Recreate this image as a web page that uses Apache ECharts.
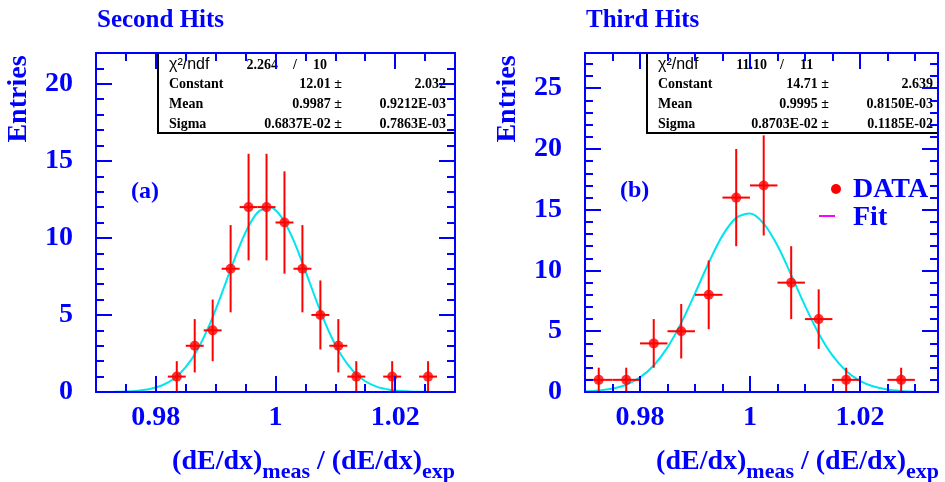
<!DOCTYPE html>
<html><head><meta charset="utf-8">
<script src="https://cdn.jsdelivr.net/npm/echarts@6/dist/echarts.min.js"></script>
<style>html,body{margin:0;padding:0;background:#fff}#c{width:945px;height:482px}</style>
</head><body><div id="c"></div>
<script>
// ---------- data ----------
const xTickLabels = [0.98, 1, 1.02];
const yTickLabelsA = [0, 5, 10, 15, 20];
const yTickLabelsB = [0, 5, 10, 15, 20, 25];

// (a) Second Hits
const dataAX = [0.9835, 0.9865, 0.9895, 0.9925, 0.9955, 0.9985, 1.0015, 1.0045, 1.0075, 1.0105, 1.0135, 1.0195, 1.0255];
const dataAY = [1, 3, 4, 8, 12, 12, 11, 8, 5, 3, 1, 1, 1];
const errAY  = [1, 1.73, 2, 2.83, 3.46, 3.46, 3.32, 2.83, 2.24, 1.73, 1, 1, 1];
const binHalfA = 0.0015;
const fitAX = [0.973, 0.975, 0.977, 0.979, 0.981, 0.983, 0.985, 0.987, 0.989, 0.991, 0.993, 0.995, 0.997, 0.999, 1.001, 1.003, 1.005, 1.007, 1.009, 1.011, 1.013, 1.015, 1.017, 1.019, 1.021, 1.023, 1.025, 1.027];
const fitAY = [0.01, 0.03, 0.08, 0.19, 0.42, 0.86, 1.61, 2.78, 4.39, 6.37, 8.48, 10.37, 11.65, 12.0, 11.35, 9.86, 7.85, 5.75, 3.86, 2.38, 1.35, 0.70, 0.33, 0.15, 0.06, 0.02, 0.01, 0.0];

// (b) Third Hits
const dataBX = [0.9725, 0.9775, 0.9825, 0.9875, 0.9925, 0.9975, 1.0025, 1.0075, 1.0125, 1.0175, 1.0275];
const dataBY = [1, 1, 4, 5, 8, 16, 17, 9, 6, 1, 1];
const errBY  = [1, 1, 2, 2.24, 2.83, 4, 4.12, 3, 2.45, 1, 1];
const binHalfB = 0.0025;
const fitBX = [0.970, 0.9725, 0.975, 0.9775, 0.980, 0.9825, 0.985, 0.9875, 0.990, 0.9925, 0.995, 0.9975, 1.000, 1.0025, 1.005, 1.0075, 1.010, 1.0125, 1.015, 1.0175, 1.020, 1.0225, 1.025, 1.0275, 1.030];
const fitBY = [0.05, 0.12, 0.28, 0.60, 1.20, 2.18, 3.67, 5.69, 8.11, 10.64, 12.87, 14.33, 14.69, 13.86, 12.05, 9.64, 7.11, 4.82, 3.01, 1.73, 0.92, 0.45, 0.20, 0.08, 0.03];

// stats boxes
const statsA = { chi: '2.264', ndf: '10', rows: [['Constant', '12.01', '2.032'], ['Mean', '0.9987', '0.9212E-03'], ['Sigma', '0.6837E-02', '0.7863E-03']] };
const statsB = { chi: '11.10', ndf: '11', rows: [['Constant', '14.71', '2.639'], ['Mean', '0.9995', '0.8150E-03'], ['Sigma', '0.8703E-02', '0.1185E-02']] };

// ---------- style ----------
const BLUE = '#0000ff', RED = '#ff0000', CYAN = '#00e5ee', MAGENTA = '#ff00ff';
const SERIF = '"Liberation Serif","Times New Roman",serif';
const SANS = '"Liberation Sans",Arial,sans-serif';

const grids = [
  { left: 96, top: 53, width: 359, height: 339, xmin: 0.97, xmax: 1.03, ymax: 22, yLabels: yTickLabelsA },
  { left: 585, top: 53, width: 353, height: 339, xmin: 0.97, xmax: 1.0342, ymax: 27.9, yLabels: yTickLabelsB }
];

function range(a, b, step) { const r = []; for (let v = a; v <= b + 1e-9; v += step) r.push(+v.toFixed(4)); return r; }

const xAxis = [], yAxis = [];
grids.forEach((g, gi) => {
  const minorX = range(g.xmin, g.xmax, 0.005);
  const minorY = range(0, Math.floor(g.ymax), 1);
  ['bottom', 'top'].forEach(pos => {
    xAxis.push({ gridIndex: gi, type: 'value', position: pos, min: g.xmin, max: g.xmax, z: 5,
      axisLine: { show: true, onZero: false, lineStyle: { color: BLUE, width: 2 } },
      axisTick: { show: true, inside: true, length: 8, customValues: minorX, lineStyle: { color: BLUE, width: 2 } },
      axisLabel: { show: false }, splitLine: { show: false } });
    xAxis.push({ gridIndex: gi, type: 'value', position: pos, min: g.xmin, max: g.xmax, z: 5,
      axisLine: { show: false, onZero: false },
      axisTick: { show: true, inside: true, length: 16, customValues: xTickLabels, lineStyle: { color: BLUE, width: 2 } },
      axisLabel: { show: pos === 'bottom', customValues: xTickLabels, margin: 12,
        formatter: v => String(+(+v).toFixed(2)), color: BLUE, fontFamily: SERIF, fontWeight: 'bold', fontSize: 28 },
      splitLine: { show: false } });
  });
  ['left', 'right'].forEach(pos => {
    yAxis.push({ gridIndex: gi, type: 'value', position: pos, min: 0, max: g.ymax, z: 5,
      axisLine: { show: true, onZero: false, lineStyle: { color: BLUE, width: 2 } },
      axisTick: { show: true, inside: true, length: 8, customValues: minorY, lineStyle: { color: BLUE, width: 2 } },
      axisLabel: { show: false }, splitLine: { show: false } });
    yAxis.push({ gridIndex: gi, type: 'value', position: pos, min: 0, max: g.ymax, z: 5,
      axisLine: { show: false, onZero: false },
      axisTick: { show: true, inside: true, length: 16, customValues: g.yLabels, lineStyle: { color: BLUE, width: 2 } },
      axisLabel: { show: pos === 'left', customValues: g.yLabels, margin: 23,
        color: BLUE, fontFamily: SERIF, fontWeight: 'bold', fontSize: 28 },
      splitLine: { show: false } });
  });
});

function errRender(halfW) {
  return function (params, api) {
    const x = api.value(0), y = api.value(1), e = api.value(2);
    const pL = api.coord([x - halfW, y]), pR = api.coord([x + halfW, y]);
    const pT = api.coord([x, y + e]), pB = api.coord([x, Math.max(0, y - e)]);
    return { type: 'group', children: [
      { type: 'line', shape: { x1: pL[0], y1: pL[1], x2: pR[0], y2: pR[1] }, style: { stroke: RED, lineWidth: 2 } },
      { type: 'line', shape: { x1: pT[0], y1: pT[1], x2: pB[0], y2: pB[1] }, style: { stroke: RED, lineWidth: 2 } }
    ] };
  };
}

function seriesFor(xi, yi, X, Y, E, half, FX, FY) {
  return [
    { type: 'line', xAxisIndex: xi, yAxisIndex: yi, data: FX.map((x, i) => [x, FY[i]]), smooth: 0.3,
      showSymbol: false, lineStyle: { color: CYAN, width: 2 }, z: 2, silent: true },
    { type: 'custom', xAxisIndex: xi, yAxisIndex: yi, data: X.map((x, i) => [x, Y[i], E[i]]),
      renderItem: errRender(half), z: 3, silent: true },
    { type: 'scatter', xAxisIndex: xi, yAxisIndex: yi, data: X.map((x, i) => [x, Y[i]]),
      symbol: 'circle', symbolSize: 10, itemStyle: { color: RED }, z: 4, silent: true }
  ];
}

function statsBox(left, right, s, cols) {
  const top = 53, bottom = 133;
  const els = [{ type: 'rect', shape: { x: left, y: top, width: right - left, height: bottom - top },
    style: { fill: '#fff', stroke: '#000', lineWidth: 2 }, z: 1 }];
  const tf = (text, x, y, align, extra) => Object.assign({ type: 'text', z: 2, x: x, y: y,
    style: { text: text, align: align, verticalAlign: 'middle', fill: '#000', fontFamily: SERIF, fontWeight: 'bold', fontSize: 14 } }, extra || {});
  els.push({ type: 'text', z: 2, x: left + 11, y: 65, style: { text: 'χ²/ndf', align: 'left', verticalAlign: 'middle', fill: '#000', fontFamily: SANS, fontSize: 16 } });
  els.push(tf(s.chi, cols.chiR, 65, 'right'));
  els.push(tf('/', cols.slash, 65, 'center'));
  els.push(tf(s.ndf, cols.ndfL, 65, 'left'));
  s.rows.forEach((r, i) => {
    const y = 84.5 + i * 20;
    els.push(tf(r[0], left + 11, y, 'left'));
    els.push(tf(r[1] + ' ±', cols.valR, y, 'right'));
    els.push(tf(r[2], cols.errR, y, 'right'));
  });
  return els;
}

const graphics = [];
// titles
graphics.push({ type: 'text', x: 97, y: 21, style: { text: 'Second Hits', fill: BLUE, fontFamily: SERIF, fontWeight: 'bold', fontSize: 25, verticalAlign: 'middle' } });
graphics.push({ type: 'text', x: 586, y: 21, style: { text: 'Third Hits', fill: BLUE, fontFamily: SERIF, fontWeight: 'bold', fontSize: 25, verticalAlign: 'middle' } });
// Entries
[19, 507.5].forEach(cx => graphics.push({ type: 'text', x: cx, y: 99, rotation: Math.PI / 2,
  style: { text: 'Entries', fill: BLUE, fontFamily: SERIF, fontWeight: 'bold', fontSize: 28, align: 'center', verticalAlign: 'middle' } }));
// x titles
[455, 939].forEach(rx => graphics.push({ type: 'text', x: rx, y: 455,
  style: { text: '{m|(dE/dx)}{s|meas}{m| / (dE/dx)}{s|exp}', align: 'right', verticalAlign: 'top',
    rich: {
      m: { fontSize: 28, fontWeight: 'bold', fontFamily: SERIF, fill: BLUE, lineHeight: 28, verticalAlign: 'bottom', padding: [0, 0, 7, 0] },
      s: { fontSize: 22, fontWeight: 'bold', fontFamily: SERIF, fill: BLUE, lineHeight: 22, verticalAlign: 'bottom' }
    } } }));
// panel labels
graphics.push({ type: 'text', x: 131, y: 192, style: { text: '(a)', fill: BLUE, fontFamily: SERIF, fontWeight: 'bold', fontSize: 24, verticalAlign: 'middle' } });
graphics.push({ type: 'text', x: 620, y: 191, style: { text: '(b)', fill: BLUE, fontFamily: SERIF, fontWeight: 'bold', fontSize: 24, verticalAlign: 'middle' } });
// legend
graphics.push({ type: 'circle', shape: { cx: 836, cy: 189, r: 5 }, style: { fill: RED }, z: 3 });
graphics.push({ type: 'text', x: 853, y: 190, style: { text: 'DATA', fill: BLUE, fontFamily: SERIF, fontWeight: 'bold', fontSize: 28, verticalAlign: 'middle' }, z: 3 });
graphics.push({ type: 'line', shape: { x1: 819, y1: 216, x2: 835, y2: 216 }, style: { stroke: MAGENTA, lineWidth: 2 }, z: 3 });
graphics.push({ type: 'text', x: 853, y: 218, style: { text: 'Fit', fill: BLUE, fontFamily: SERIF, fontWeight: 'bold', fontSize: 28, verticalAlign: 'middle' }, z: 3 });
// stats boxes
graphics.push(...statsBox(158, 455, statsA, { chiR: 278, slash: 295, ndfL: 313, valR: 342, errR: 446 }));
graphics.push(...statsBox(647, 938, statsB, { chiR: 767, slash: 782, ndfL: 800, valR: 829, errR: 933 }));

const chart = echarts.init(document.getElementById('c'), null, { renderer: 'canvas' });
chart.setOption({
  animation: false,
  backgroundColor: '#fff',
  grid: grids.map(g => ({ left: g.left, top: g.top, width: g.width, height: g.height, containLabel: false })),
  xAxis: xAxis,
  yAxis: yAxis,
  series: [].concat(
    seriesFor(0, 0, dataAX, dataAY, errAY, binHalfA, fitAX, fitAY),
    seriesFor(4, 4, dataBX, dataBY, errBY, binHalfB, fitBX, fitBY)
  ),
  graphic: graphics
});
</script>
</body></html>
